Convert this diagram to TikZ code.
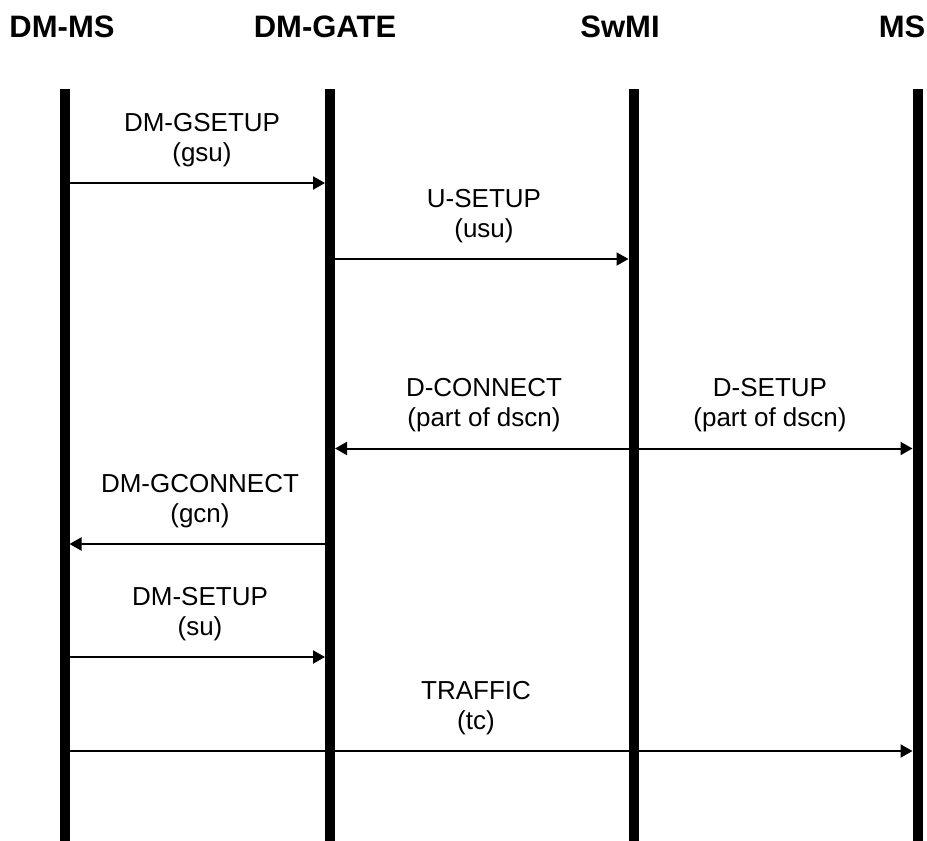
\documentclass[tikz,border=0pt]{standalone}
\usepackage{fontspec}
\setmainfont{Liberation Sans}
\usetikzlibrary{arrows.meta}
\begin{document}
\begin{tikzpicture}[x=1pt,y=-1pt,
  lifeline/.style={fill=black, draw=none, minimum width=10pt, minimum height=752pt, inner sep=0pt, outer sep=0pt},
  head/.style={font=\fontsize{31}{36}\selectfont\bfseries, anchor=base, inner sep=0pt},
  msg/.style={font=\fontsize{26}{30}\selectfont, align=center, anchor=south, inner sep=0pt},
  arr/.style={line width=2pt, -{Triangle[length=12pt,width=13pt]}},
]
\useasboundingbox (0,0) rectangle (927,841);
% headers
\node[head] (h1) at (62,37) {DM-MS};
\node[head] (h2) at (325,37) {DM-GATE};
\node[head] (h3) at (620,37) {SwMI};
\node[head] (h4) at (902,37) {MS};
% lifelines
\node[lifeline] (l1) at (64.5,465) {};
\node[lifeline] (l2) at (330,465) {};
\node[lifeline] (l3) at (633.5,465) {};
\node[lifeline] (l4) at (917.5,465) {};
% messages
\node[msg] (m1) at (202,167) {DM-GSETUP\\(gsu)};
\draw[arr] (l1.east |- 0,183) -- (l2.west |- 0,183);
\node[msg] (m2) at (484,243) {U-SETUP\\(usu)};
\draw[arr] (l2.east |- 0,259) -- (l3.west |- 0,259);
\node[msg] (m3) at (484,432) {D-CONNECT\\(part of dscn)};
\draw[arr] (l3.west |- 0,448.5) -- (l2.east |- 0,448.5);
\node[msg] (m4) at (770,432) {D-SETUP\\(part of dscn)};
\draw[arr] (l3.east |- 0,448.5) -- (l4.west |- 0,448.5);
\node[msg] (m5) at (200,528) {DM-GCONNECT\\(gcn)};
\draw[arr] (l2.west |- 0,544) -- (l1.east |- 0,544);
\node[msg] (m6) at (200,641) {DM-SETUP\\(su)};
\draw[arr] (l1.east |- 0,657) -- (l2.west |- 0,657);
\node[msg] (m7) at (476,735) {TRAFFIC\\(tc)};
\draw[arr] (l1.east |- 0,751) -- (l4.west |- 0,751);
\end{tikzpicture}
\end{document}
